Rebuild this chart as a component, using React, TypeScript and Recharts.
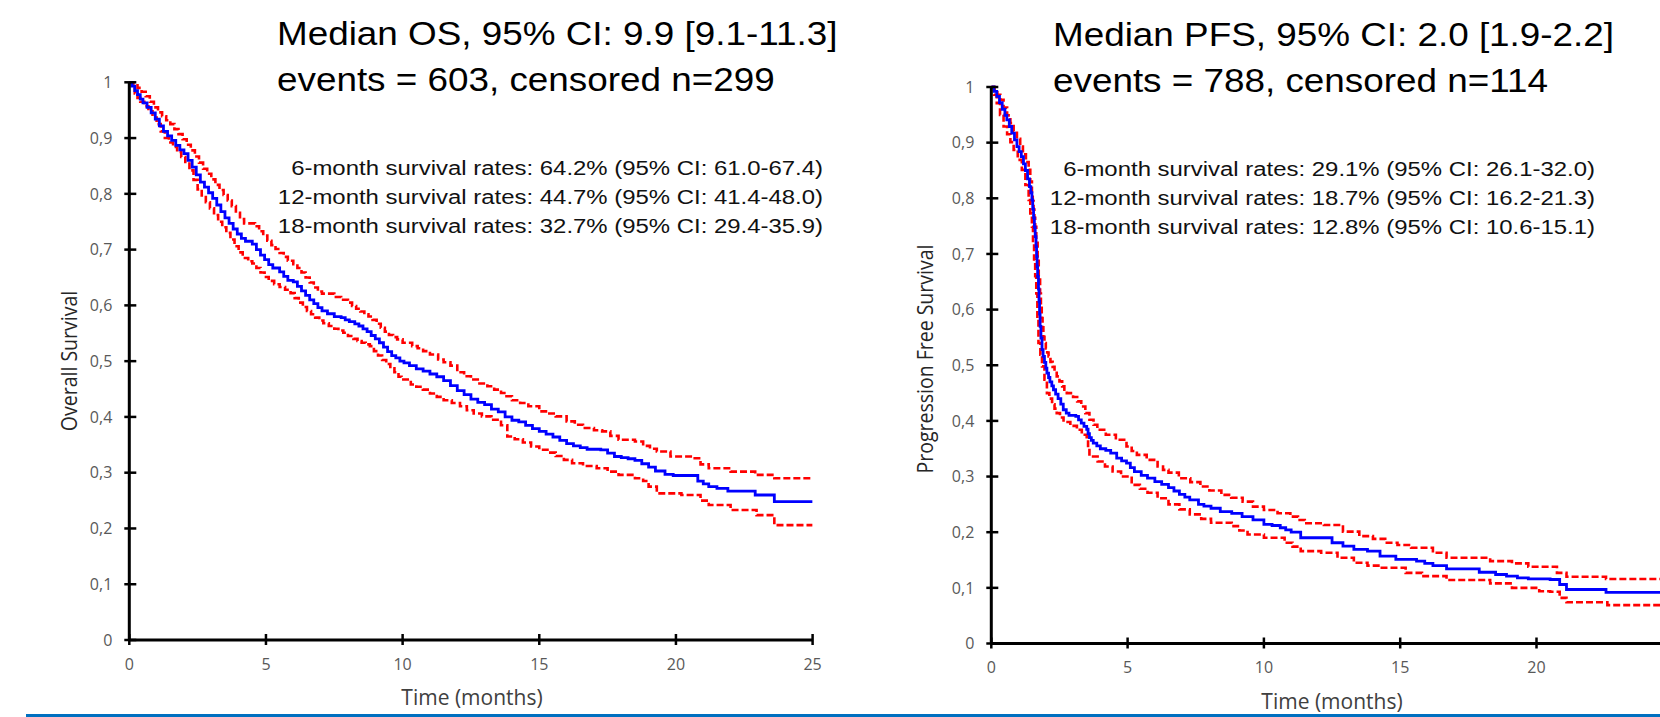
import { LineChart, Line, XAxis, YAxis } from "recharts";

// months on the x axis, survival probability on the y axis
const OS_X_TICKS = [0, 5, 10, 15, 20, 25];
const PFS_X_TICKS = [0, 5, 10, 15, 20]; // the 25 tick falls past the right edge of the slide
const Y_TICKS = [0, 0.1, 0.2, 0.3, 0.4, 0.5, 0.6, 0.7, 0.8, 0.9, 1];

// Overall survival (Kaplan-Meier) with 95% CI
const osEstimate: [number, number][] = [
  [0, 1], [0.1, 0.993], [0.2, 0.985], [0.3, 0.978], [0.4, 0.97], [0.5, 0.963], [0.65, 0.955],
  [0.8, 0.945], [0.95, 0.934], [1.1, 0.922], [1.25, 0.912], [1.4, 0.904], [1.55, 0.896],
  [1.7, 0.887], [1.85, 0.879], [2, 0.872], [2.15, 0.86], [2.3, 0.848], [2.45, 0.834], [2.6, 0.821],
  [2.75, 0.812], [2.9, 0.802], [3.05, 0.792], [3.2, 0.78], [3.35, 0.768], [3.5, 0.757],
  [3.65, 0.747], [3.8, 0.737], [3.95, 0.728], [4.1, 0.72], [4.25, 0.715], [4.5, 0.71], [4.65, 0.7],
  [4.8, 0.69], [4.95, 0.682], [5.1, 0.673], [5.25, 0.667], [5.5, 0.66], [5.65, 0.652],
  [5.8, 0.645], [6, 0.642], [6.15, 0.634], [6.3, 0.626], [6.45, 0.618], [6.6, 0.61], [6.75, 0.603],
  [6.9, 0.596], [7.05, 0.59], [7.25, 0.585], [7.5, 0.58], [7.75, 0.578], [7.9, 0.574],
  [8.05, 0.571], [8.25, 0.567], [8.4, 0.563], [8.55, 0.558], [8.7, 0.553], [8.85, 0.546],
  [9, 0.54], [9.15, 0.533], [9.3, 0.525], [9.45, 0.517], [9.6, 0.51], [9.75, 0.506], [9.9, 0.5],
  [10.05, 0.497], [10.25, 0.492], [10.5, 0.486], [10.75, 0.482], [11, 0.477], [11.25, 0.472],
  [11.5, 0.465], [11.75, 0.456], [12, 0.447], [12.25, 0.44], [12.5, 0.432], [12.75, 0.426],
  [13, 0.422], [13.25, 0.414], [13.5, 0.409], [13.75, 0.4], [14, 0.394], [14.25, 0.391],
  [14.5, 0.385], [14.75, 0.379], [15, 0.374], [15.25, 0.369], [15.5, 0.364], [15.75, 0.358],
  [16, 0.352], [16.25, 0.348], [16.5, 0.345], [16.75, 0.342], [17.25, 0.341], [17.5, 0.335],
  [17.75, 0.329], [18, 0.327], [18.25, 0.325], [18.5, 0.322], [18.75, 0.316], [19, 0.31],
  [19.25, 0.303], [19.6, 0.297], [19.9, 0.295], [20.8, 0.285], [21, 0.28], [21.2, 0.275],
  [21.5, 0.272], [21.9, 0.267], [22.9, 0.26], [23.6, 0.248], [25, 0.248],
];
const osUpper: [number, number][] = [
  [0, 1], [0.15, 0.997], [0.3, 0.99], [0.45, 0.983], [0.6, 0.975], [0.75, 0.965], [0.9, 0.955],
  [1.05, 0.946], [1.2, 0.939], [1.35, 0.932], [1.5, 0.925], [1.65, 0.916], [1.8, 0.907],
  [1.95, 0.898], [2.1, 0.888], [2.25, 0.878], [2.4, 0.867], [2.55, 0.856], [2.7, 0.845],
  [2.85, 0.836], [3, 0.826], [3.15, 0.816], [3.3, 0.807], [3.45, 0.798], [3.6, 0.788],
  [3.75, 0.778], [3.9, 0.766], [4.05, 0.755], [4.2, 0.747], [4.6, 0.742], [4.75, 0.733],
  [4.9, 0.725], [5.05, 0.716], [5.2, 0.708], [5.35, 0.701], [5.5, 0.694], [5.65, 0.687],
  [5.8, 0.68], [6, 0.674], [6.15, 0.667], [6.3, 0.659], [6.45, 0.65], [6.6, 0.641], [6.75, 0.632],
  [6.9, 0.625], [7.05, 0.621], [7.5, 0.615], [7.75, 0.61], [8, 0.605], [8.15, 0.599], [8.3, 0.594],
  [8.45, 0.589], [8.6, 0.584], [8.75, 0.58], [8.9, 0.574], [9.05, 0.567], [9.2, 0.56],
  [9.35, 0.553], [9.5, 0.547], [9.65, 0.543], [9.8, 0.539], [10, 0.533], [10.35, 0.527],
  [10.55, 0.523], [10.75, 0.518], [11, 0.512], [11.3, 0.503], [11.5, 0.498], [11.75, 0.492],
  [12, 0.48], [12.25, 0.473], [12.5, 0.467], [12.75, 0.46], [13.1, 0.455], [13.35, 0.449],
  [13.6, 0.443], [13.8, 0.437], [14, 0.43], [14.3, 0.425], [14.6, 0.419], [15, 0.41], [15.3, 0.406],
  [15.6, 0.401], [16, 0.392], [16.3, 0.386], [16.6, 0.38], [17, 0.376], [17.3, 0.374],
  [17.6, 0.366], [17.9, 0.359], [18.5, 0.356], [18.8, 0.348], [19.05, 0.343], [19.3, 0.338],
  [19.8, 0.329], [20.6, 0.326], [20.9, 0.315], [21.2, 0.308], [22, 0.302], [22.9, 0.296],
  [23.6, 0.29], [25, 0.29],
];
const osLower: [number, number][] = [
  [0, 1], [0.1, 0.99], [0.2, 0.98], [0.3, 0.972], [0.4, 0.965], [0.55, 0.957], [0.7, 0.948],
  [0.85, 0.937], [1, 0.925], [1.15, 0.912], [1.3, 0.9], [1.45, 0.892], [1.6, 0.884], [1.75, 0.875],
  [1.9, 0.866], [2.05, 0.857], [2.2, 0.842], [2.35, 0.825], [2.5, 0.808], [2.65, 0.797],
  [2.8, 0.785], [2.95, 0.774], [3.1, 0.762], [3.25, 0.75], [3.4, 0.74], [3.55, 0.73], [3.7, 0.718],
  [3.85, 0.706], [4, 0.695], [4.15, 0.685], [4.35, 0.679], [4.5, 0.675], [4.65, 0.667],
  [4.8, 0.659], [4.95, 0.651], [5.1, 0.644], [5.3, 0.638], [5.5, 0.633], [5.7, 0.628],
  [5.9, 0.622], [6.05, 0.613], [6.2, 0.605], [6.35, 0.597], [6.5, 0.59], [6.65, 0.584],
  [6.8, 0.578], [6.95, 0.573], [7.1, 0.568], [7.3, 0.563], [7.5, 0.558], [7.65, 0.555],
  [7.83, 0.551], [8, 0.545], [8.2, 0.54], [8.35, 0.536], [8.5, 0.533], [8.65, 0.53], [8.8, 0.527],
  [8.95, 0.518], [9.1, 0.51], [9.25, 0.502], [9.4, 0.495], [9.55, 0.487], [9.7, 0.48],
  [9.85, 0.472], [9.96, 0.467], [10.3, 0.458], [10.5, 0.454], [10.74, 0.449], [11, 0.442],
  [11.25, 0.436], [11.5, 0.43], [11.8, 0.425], [12.1, 0.419], [12.35, 0.412], [12.6, 0.406],
  [12.9, 0.401], [13.25, 0.395], [13.6, 0.385], [13.83, 0.365], [14.1, 0.36], [14.4, 0.354],
  [14.7, 0.347], [15, 0.341], [15.3, 0.336], [15.6, 0.33], [15.9, 0.323], [16.2, 0.317],
  [16.6, 0.312], [17.1, 0.308], [17.5, 0.302], [17.9, 0.296], [18.5, 0.29], [18.8, 0.285],
  [19, 0.275], [19.3, 0.263], [20.2, 0.26], [20.9, 0.25], [21.2, 0.242], [22, 0.233],
  [22.95, 0.224], [23.6, 0.206], [25, 0.206],
];

// Progression free survival with 95% CI
const pfsEstimate: [number, number][] = [
  [0, 1], [0.1, 0.992], [0.2, 0.983], [0.3, 0.972], [0.4, 0.96], [0.5, 0.949], [0.57, 0.941],
  [0.66, 0.929], [0.75, 0.917], [0.85, 0.905], [0.94, 0.893], [1.02, 0.884], [1.1, 0.875],
  [1.18, 0.862], [1.25, 0.85], [1.33, 0.835], [1.4, 0.821], [1.45, 0.81], [1.49, 0.797],
  [1.52, 0.781], [1.55, 0.765], [1.58, 0.748], [1.61, 0.731], [1.64, 0.713], [1.66, 0.695],
  [1.68, 0.677], [1.7, 0.659], [1.73, 0.637], [1.75, 0.615], [1.77, 0.592], [1.79, 0.57],
  [1.82, 0.549], [1.86, 0.528], [1.9, 0.516], [1.95, 0.505], [2, 0.495], [2.04, 0.486],
  [2.1, 0.478], [2.15, 0.47], [2.22, 0.463], [2.28, 0.456], [2.36, 0.448], [2.45, 0.44],
  [2.55, 0.43], [2.64, 0.42], [2.75, 0.414], [2.85, 0.41], [3.1, 0.408], [3.2, 0.402],
  [3.3, 0.396], [3.4, 0.39], [3.5, 0.385], [3.55, 0.377], [3.6, 0.37], [3.67, 0.365], [3.74, 0.36],
  [3.87, 0.355], [4, 0.35], [4.2, 0.347], [4.38, 0.342], [4.6, 0.333], [4.78, 0.328], [4.96, 0.324],
  [5.1, 0.316], [5.25, 0.309], [5.5, 0.302], [5.73, 0.297], [6, 0.291], [6.25, 0.286], [6.5, 0.28],
  [6.7, 0.274], [6.9, 0.268], [7.1, 0.263], [7.28, 0.258], [7.6, 0.25], [7.8, 0.247], [8.06, 0.243],
  [8.4, 0.237], [8.82, 0.234], [9.2, 0.228], [9.6, 0.222], [10, 0.214], [10.3, 0.212], [10.6, 0.208],
  [10.8, 0.204], [11, 0.2], [11.35, 0.19], [12.2, 0.19], [12.5, 0.181], [12.9, 0.175], [13.3, 0.169],
  [13.8, 0.166], [14.26, 0.157], [14.84, 0.151], [15.6, 0.148], [15.9, 0.144], [16.2, 0.14],
  [16.7, 0.134], [17.9, 0.128], [18.5, 0.124], [18.9, 0.121], [19.3, 0.118], [19.7, 0.116],
  [20.5, 0.115], [20.85, 0.106], [21.1, 0.097], [22.55, 0.092], [25, 0.092],
];
const pfsUpper: [number, number][] = [
  [0, 1], [0.12, 0.993], [0.22, 0.986], [0.33, 0.977], [0.45, 0.963], [0.58, 0.949], [0.7, 0.935],
  [0.82, 0.921], [0.94, 0.907], [1.06, 0.893], [1.16, 0.879], [1.27, 0.865], [1.37, 0.851],
  [1.43, 0.83], [1.49, 0.809], [1.52, 0.795], [1.55, 0.78], [1.58, 0.765], [1.61, 0.749],
  [1.65, 0.72], [1.7, 0.69], [1.74, 0.66], [1.79, 0.629], [1.82, 0.607], [1.85, 0.585],
  [1.88, 0.568], [1.91, 0.551], [1.95, 0.54], [2, 0.53], [2.05, 0.523], [2.1, 0.516], [2.17, 0.506],
  [2.25, 0.497], [2.32, 0.489], [2.4, 0.48], [2.5, 0.471], [2.6, 0.462], [2.68, 0.456], [2.77, 0.45],
  [3, 0.443], [3.15, 0.435], [3.3, 0.426], [3.45, 0.414], [3.6, 0.402], [3.75, 0.393],
  [3.89, 0.384], [4.2, 0.375], [4.57, 0.366], [4.96, 0.354], [5.15, 0.346], [5.34, 0.339],
  [5.7, 0.33], [6.1, 0.318], [6.3, 0.312], [6.5, 0.307], [6.88, 0.297], [7.3, 0.29], [7.67, 0.282],
  [8, 0.275], [8.44, 0.267], [8.8, 0.262], [9.22, 0.255], [9.6, 0.246], [10, 0.24], [10.5, 0.234],
  [10.97, 0.228], [11.25, 0.222], [11.5, 0.216], [12.2, 0.213], [12.9, 0.201], [13.5, 0.193],
  [14, 0.188], [14.45, 0.181], [14.9, 0.177], [15.4, 0.172], [16.2, 0.163], [16.7, 0.154],
  [17.9, 0.154], [18.3, 0.148], [19.1, 0.144], [19.7, 0.138], [20.75, 0.127], [21.1, 0.12],
  [22.55, 0.116], [25, 0.116],
];
const pfsLower: [number, number][] = [
  [0, 1], [0.1, 0.986], [0.2, 0.971], [0.32, 0.95], [0.45, 0.929], [0.58, 0.915], [0.7, 0.901],
  [0.82, 0.887], [0.97, 0.869], [1.12, 0.851], [1.25, 0.824], [1.37, 0.797], [1.43, 0.773],
  [1.49, 0.749], [1.53, 0.72], [1.57, 0.69], [1.61, 0.66], [1.65, 0.629], [1.69, 0.585],
  [1.73, 0.54], [1.8, 0.519], [1.86, 0.498], [1.95, 0.474], [2.04, 0.45], [2.13, 0.44],
  [2.23, 0.43], [2.32, 0.422], [2.4, 0.414], [2.52, 0.406], [2.65, 0.398], [2.9, 0.391],
  [3.14, 0.384], [3.32, 0.375], [3.5, 0.366], [3.55, 0.351], [3.6, 0.336], [3.9, 0.327],
  [4.17, 0.318], [4.45, 0.309], [4.76, 0.3], [5.15, 0.285], [5.45, 0.278], [5.73, 0.271],
  [6.1, 0.261], [6.5, 0.25], [6.9, 0.241], [7.28, 0.232], [7.7, 0.224], [8.06, 0.217], [8.82, 0.211],
  [9.1, 0.203], [9.4, 0.196], [10, 0.19], [10.76, 0.181], [11.05, 0.174], [11.35, 0.166],
  [12.1, 0.163], [12.7, 0.154], [13.3, 0.145], [13.8, 0.14], [14.26, 0.136], [15.2, 0.127],
  [15.8, 0.121], [16.7, 0.114], [18.3, 0.108], [19.1, 0.1], [20.1, 0.094], [20.5, 0.093],
  [20.85, 0.082], [21.1, 0.074], [22.6, 0.069], [25, 0.069],
];

const OS_TITLE = ["Median OS, 95% CI: 9.9 [9.1-11.3]", "events = 603, censored n=299"];
const PFS_TITLE = ["Median PFS, 95% CI: 2.0 [1.9-2.2]", "events = 788, censored n=114"];
const OS_RATES = [
  "6-month survival rates: 64.2% (95% CI: 61.0-67.4)",
  "12-month survival rates: 44.7% (95% CI: 41.4-48.0)",
  "18-month survival rates: 32.7% (95% CI: 29.4-35.9)",
];
const PFS_RATES = [
  "6-month survival rates: 29.1% (95% CI: 26.1-32.0)",
  "12-month survival rates: 18.7% (95% CI: 16.2-21.3)",
  "18-month survival rates: 12.8% (95% CI: 10.6-15.1)",
];

const BLUE = "#0000FF";
const RED = "#FF0000";
const AXIS = "#000000";
const TICK_TEXT = "#595959";
const TICK_FONT = "'Open Sans', 'Noto Sans', sans-serif";
const TEXT_FONT = "'Liberation Sans', Arial, sans-serif";

const TICK_SIZE = 6;
const Y_TICK_MARGIN = 11;
const X_TICK_MARGIN = 18;

const toRows = (pts: [number, number][]) => pts.map(([t, s]) => ({ t, s }));
const fmtY = (v: number) => (v === 0 ? "0" : v === 1 ? "1" : v.toFixed(1).replace(".", ","));

// ticks cross the axis line, like the original
function YTick(props: any) {
  const { x, y, payload } = props;
  const ax = x + TICK_SIZE + Y_TICK_MARGIN;
  return (
    <g>
      <line x1={ax - 5} x2={ax + 7} y1={y} y2={y} stroke={AXIS} strokeWidth={2.5} />
      <text x={x} y={y} dy="0.36em" textAnchor="end" fill={TICK_TEXT} fontSize={16} fontFamily={TICK_FONT}>
        {fmtY(payload.value)}
      </text>
    </g>
  );
}

function XTick(props: any) {
  const { x, y, payload } = props;
  const ay = y - TICK_SIZE - X_TICK_MARGIN;
  return (
    <g>
      <line x1={x} x2={x} y1={ay - 6} y2={ay + 5} stroke={AXIS} strokeWidth={2.5} />
      <text x={x} y={y} dy="0.36em" textAnchor="middle" fill={TICK_TEXT} fontSize={16} fontFamily={TICK_FONT}>
        {payload.value}
      </text>
    </g>
  );
}

interface PanelProps {
  left: number;
  width: number;
  yAxisWidth: number;
  margin: { top: number; right: number; bottom: number; left: number };
  xTicks: number[];
  estimate: [number, number][];
  upper: [number, number][];
  lower: [number, number][];
}

function KmPanel({ left, width, yAxisWidth, margin, xTicks, estimate, upper, lower }: PanelProps) {
  return (
    <div style={{ position: "absolute", left, top: 0 }}>
      <LineChart width={width} height={717} margin={margin}>
        <XAxis
          type="number"
          dataKey="t"
          domain={[0, 25]}
          ticks={xTicks}
          interval={0}
          allowDataOverflow
          height={40}
          axisLine={{ stroke: AXIS, strokeWidth: 3 }}
          tickLine={false}
          tickSize={TICK_SIZE}
          tickMargin={X_TICK_MARGIN}
          tick={<XTick />}
        />
        <YAxis
          type="number"
          domain={[0, 1]}
          ticks={Y_TICKS}
          interval={0}
          width={yAxisWidth}
          axisLine={{ stroke: AXIS, strokeWidth: 3 }}
          tickLine={false}
          tickSize={TICK_SIZE}
          tickMargin={Y_TICK_MARGIN}
          tick={<YTick />}
        />
        <Line data={toRows(upper)} dataKey="s" type="stepAfter" stroke={RED} strokeWidth={2.6} strokeDasharray="7 3" dot={false} isAnimationActive={false} />
        <Line data={toRows(lower)} dataKey="s" type="stepAfter" stroke={RED} strokeWidth={2.6} strokeDasharray="7 3" dot={false} isAnimationActive={false} />
        <Line data={toRows(estimate)} dataKey="s" type="stepAfter" stroke={BLUE} strokeWidth={2.8} dot={false} isAnimationActive={false} />
      </LineChart>
    </div>
  );
}

export default function App() {
  return (
    <div style={{ position: "absolute", left: 0, top: 0, width: 1660, height: 717, overflow: "hidden", background: "#fff" }}>
      <KmPanel
        left={0}
        width={830}
        yAxisWidth={129.3}
        margin={{ top: 82.3, right: 17.4, bottom: 37, left: 0 }}
        xTicks={OS_X_TICKS}
        estimate={osEstimate}
        upper={osUpper}
        lower={osLower}
      />
      <KmPanel
        left={830}
        width={843}
        yAxisWidth={161.3}
        margin={{ top: 87, right: 0.2, bottom: 33.5, left: 0 }}
        xTicks={PFS_X_TICKS}
        estimate={pfsEstimate}
        upper={pfsUpper}
        lower={pfsLower}
      />
      <svg width={1660} height={717} style={{ position: "absolute", left: 0, top: 0, pointerEvents: "none" }}>
        {OS_TITLE.map((s, i) => (
          <text key={s} transform={`translate(277, ${45 + i * 45.5}) scale(1.1, 1)`} fontSize={33.5} fontFamily={TEXT_FONT} fill="#000">
            {s}
          </text>
        ))}
        {PFS_TITLE.map((s, i) => (
          <text key={s} transform={`translate(1053, ${46 + i * 45.5}) scale(1.1, 1)`} fontSize={33.5} fontFamily={TEXT_FONT} fill="#000">
            {s}
          </text>
        ))}
        {OS_RATES.map((s, i) => (
          <text key={s} transform={`translate(823, ${175 + i * 28.8}) scale(1.14, 1)`} textAnchor="end" fontSize={21} fontFamily={TEXT_FONT} fill="#111">
            {s}
          </text>
        ))}
        {PFS_RATES.map((s, i) => (
          <text key={s} transform={`translate(1595, ${176 + i * 28.8}) scale(1.14, 1)`} textAnchor="end" fontSize={21} fontFamily={TEXT_FONT} fill="#111">
            {s}
          </text>
        ))}
        <text x={472} y={705} textAnchor="middle" fontSize={21} fontFamily={TICK_FONT} fill="#404040">
          Time (months)
        </text>
        <text x={1332} y={709} textAnchor="middle" fontSize={21} fontFamily={TICK_FONT} fill="#404040">
          Time (months)
        </text>
        <text transform="translate(77, 361) rotate(-90) scale(1, 1.12)" textAnchor="middle" fontSize={19.5} fontFamily={TICK_FONT} fill="#262626">
          Overall Survival
        </text>
        <text transform="translate(933, 359) rotate(-90) scale(1, 1.12)" textAnchor="middle" fontSize={19.5} fontFamily={TICK_FONT} fill="#262626">
          Progression Free Survival
        </text>
        <rect x={26} y={714} width={1634} height={3} fill="#0070C0" />
      </svg>
    </div>
  );
}
